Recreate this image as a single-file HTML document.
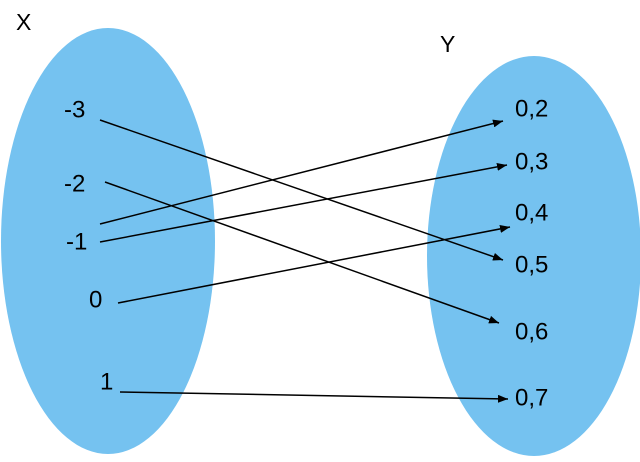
<!DOCTYPE html>
<html><head><style>body{margin:0;background:#fff}</style></head><body>
<svg width="640" height="457" xmlns="http://www.w3.org/2000/svg" font-family="Liberation Sans, sans-serif" font-size="24" fill="#000">
<defs><marker id="a" markerWidth="10" markerHeight="8" refX="10" refY="4" orient="auto" markerUnits="userSpaceOnUse"><path d="M0,0 L10,4 L0,8 z" fill="#000"/></marker></defs>
<ellipse cx="108" cy="241" rx="107" ry="213" fill="#75C2F0"/>
<ellipse cx="534" cy="256" rx="107" ry="200" fill="#75C2F0"/>
<text x="16" y="30" font-size="23">X</text>
<text x="440" y="52" font-size="23">Y</text>
<g dominant-baseline="central">
<text x="64" y="110">-3</text>
<text x="64" y="184">-2</text>
<text x="66" y="242">-1</text>
<text x="89" y="300">0</text>
<text x="100" y="382">1</text>
<text x="515" y="109">0,2</text>
<text x="515" y="162">0,3</text>
<text x="515" y="213">0,4</text>
<text x="515" y="265">0,5</text>
<text x="515" y="332">0,6</text>
<text x="515" y="398">0,7</text>
</g>
<g stroke="#000" stroke-width="1.5" marker-end="url(#a)">
<line x1="100" y1="120" x2="503" y2="260"/>
<line x1="105" y1="182" x2="499" y2="323"/>
<line x1="100" y1="224" x2="503" y2="121"/>
<line x1="100" y1="242" x2="507" y2="165"/>
<line x1="118" y1="303" x2="510" y2="227"/>
<line x1="120" y1="392" x2="508" y2="399"/>
</g>
</svg>
</body></html>
